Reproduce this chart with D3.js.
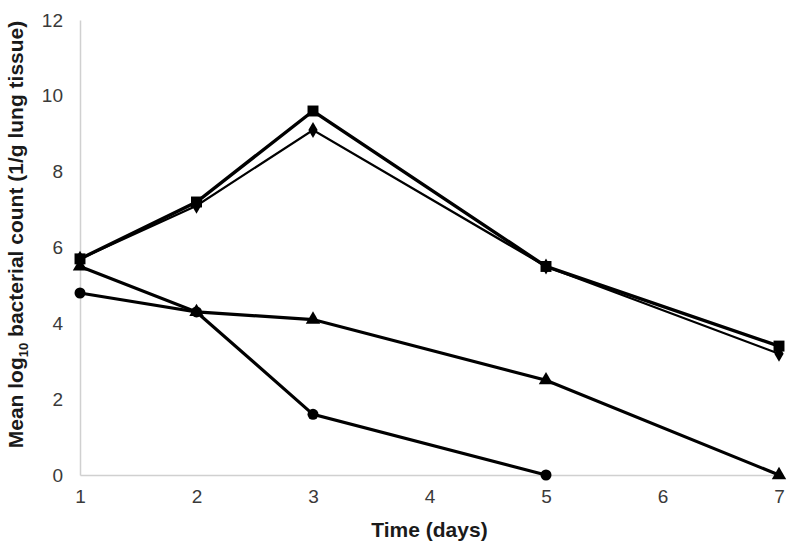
<!DOCTYPE html>
<html>
<head>
<meta charset="utf-8">
<script src="https://cdn.jsdelivr.net/npm/d3@7"></script>
<style>
  body { margin: 0; background: #fff; }
  .tick text { font-family: "Liberation Sans", Arial, sans-serif; font-size: 19px; fill: #3a3a3a; }
  .axis-title { font-family: "Liberation Sans", Arial, sans-serif; font-weight: bold; font-size: 21px; fill: #1a1a1a; }
</style>
</head>
<body>
<div id="chart"></div>
<script>
// days sampled
var days = [1, 2, 3, 5, 7];
// mean log10 counts per series
var squareVals  = [5.7, 7.2, 9.6, 5.5, 3.4];
var diamondVals = [5.7, 7.1, 9.1, 5.5, 3.2];
var triangleVals = [5.5, 4.3, 4.1, 2.5, 0];
var circleVals  = [4.8, 4.3, 1.6, 0];
var xTicks = [1, 2, 3, 4, 5, 6, 7];
var yTicks = [0, 2, 4, 6, 8, 10, 12];

var margin = {top: 20, right: 21, bottom: 80, left: 80},
    width = 800 - margin.left - margin.right,
    height = 555 - margin.top - margin.bottom;

var x = d3.scaleLinear().domain([1, 7]).range([0, width]);
var y = d3.scaleLinear().domain([0, 12]).range([height, 0]);

var svg = d3.select("#chart").append("svg")
    .attr("width", 800)
    .attr("height", 555)
  .append("g")
    .attr("transform", "translate(" + margin.left + "," + margin.top + ")");

// axes
var xAxis = svg.append("g")
    .attr("transform", "translate(0," + height + ")")
    .call(d3.axisBottom(x).tickValues(xTicks).tickSize(0).tickPadding(15).tickFormat(d3.format("d")));
var yAxis = svg.append("g")
    .call(d3.axisLeft(y).tickValues(yTicks).tickSize(0).tickPadding(17).tickFormat(d3.format("d")));
svg.selectAll(".domain").attr("stroke", "#d0d0d0").attr("stroke-width", 1.5);

// series
var series = [
  {vals: squareVals, shape: d3.symbolSquare, size: 120, w: 3.4},
  {vals: diamondVals, shape: d3.symbolDiamond, size: 75, w: 2.2},
  {vals: triangleVals, shape: d3.symbolTriangle, size: 90, w: 3.2},
  {vals: circleVals, shape: d3.symbolCircle, size: 95, w: 3.2}
];

var line = d3.line()
    .x(function(d) { return x(d.day); })
    .y(function(d) { return y(d.v); });

series.forEach(function(s) {
  var pts = s.vals.map(function(v, i) { return {day: days[i], v: v}; });
  svg.append("path")
      .datum(pts)
      .attr("fill", "none")
      .attr("stroke", "#000")
      .attr("stroke-width", s.w)
      .attr("d", line);
  svg.selectAll(null)
      .data(pts)
    .enter().append("path")
      .attr("transform", function(d) { return "translate(" + x(d.day) + "," + y(d.v) + ")"; })
      .attr("d", d3.symbol().type(s.shape).size(s.size))
      .attr("fill", "#000");
});

// axis titles
svg.append("text")
    .attr("class", "axis-title")
    .attr("x", width / 2)
    .attr("y", height + 62)
    .attr("text-anchor", "middle")
    .text("Time (days)");

var yt = svg.append("text")
    .attr("class", "axis-title")
    .attr("transform", "translate(-57," + (height / 2 - 13) + ") rotate(-90)")
    .attr("text-anchor", "middle");
yt.append("tspan").text("Mean log");
yt.append("tspan").attr("font-size", "13px").attr("dy", 5).text("10");
yt.append("tspan").attr("dy", -5).text(" bacterial count (1/g lung tissue)");
</script>
</body>
</html>
